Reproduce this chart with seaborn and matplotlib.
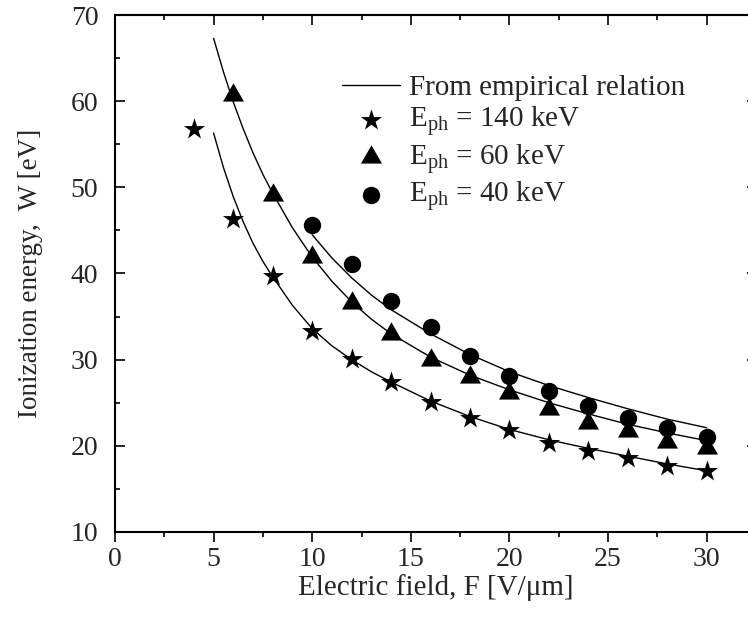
import numpy as np
import pandas as pd
import seaborn as sns
import matplotlib.pyplot as plt
from matplotlib.path import Path
from matplotlib.ticker import MultipleLocator

# Measured points
field_140 = [4, 6, 8, 10, 12, 14, 16, 18, 20, 22, 24, 26, 28, 30]
w_140 = [56.8, 46.3, 39.7, 33.3, 30.1, 27.4, 25.1, 23.2, 21.8, 20.3, 19.4, 18.6, 17.7, 17.1]
field_60 = [6, 8, 10, 12, 14, 16, 18, 20, 22, 24, 26, 28, 30]
w_60 = [60.7, 49.1, 41.9, 36.6, 33.0, 30.0, 28.0, 26.1, 24.3, 22.6, 21.7, 20.5, 19.7]
field_40 = [10, 12, 14, 16, 18, 20, 22, 24, 26, 28, 30]
w_40 = [45.6, 41.1, 36.8, 33.8, 30.4, 28.1, 26.4, 24.6, 23.2, 22.1, 21.0]

# Empirical relation curves
fit_x_140 = [5, 5.5, 6, 6.5, 7, 7.5, 8, 9, 10, 11, 12, 13, 14, 16, 18, 20, 22, 24, 26, 28, 30]
fit_w_140 = [56.3, 52.3, 48.9, 46.0, 43.5, 41.4, 39.6, 36.3, 33.6, 31.6, 30.0, 28.6, 27.4,
             25.2, 23.4, 21.9, 20.7, 19.7, 18.8, 17.9, 17.1]
fit_x_60 = [5, 5.5, 6, 6.5, 7, 7.5, 8, 9, 10, 11, 12, 13, 14, 16, 18, 20, 22, 24, 26, 28, 30]
fit_w_60 = [67.3, 63.4, 59.9, 56.8, 54.0, 51.5, 49.3, 45.3, 41.9, 39.1, 36.7, 34.7, 33.0,
            30.3, 28.2, 26.5, 25.0, 23.7, 22.5, 21.5, 20.6]
fit_x_40 = [10, 11, 12, 13, 14, 16, 18, 20, 22, 24, 26, 28, 30]
fit_w_40 = [44.5, 41.8, 39.5, 37.5, 35.8, 33.0, 30.6, 28.6, 27.0, 25.6, 24.3, 23.1, 22.1]

sns.set_theme(style="ticks")
plt.rcParams["font.family"] = ["Liberation Serif", "DejaVu Serif"]
plt.rcParams["mathtext.fontset"] = "custom"
plt.rcParams["mathtext.rm"] = "Liberation Serif"
plt.rcParams["mathtext.it"] = "Liberation Serif:italic"

fig = plt.figure(figsize=(7.48, 6.23), dpi=100)
# right edge of the frame sits just past the image border
ax = fig.add_axes([0.1537, 0.1461, 0.858, 0.8298])

lw = 1.0
sns.lineplot(x=fit_x_60, y=fit_w_60, ax=ax, color="black", lw=lw, sort=False,
             estimator=None, label="From empirical relation")
sns.lineplot(x=fit_x_140, y=fit_w_140, ax=ax, color="black", lw=lw, sort=False, estimator=None)
sns.lineplot(x=fit_x_40, y=fit_w_40, ax=ax, color="black", lw=lw, sort=False, estimator=None)

tri = Path([(-1, -0.5774), (1, -0.5774), (0, 1.1547), (-1, -0.5774)],
           [Path.MOVETO, Path.LINETO, Path.LINETO, Path.CLOSEPOLY])
sns.scatterplot(x=field_140, y=w_140, ax=ax, marker="*", s=16**2, color="black",
                linewidth=0, label=r"E$_{\rm ph}$ = 140 keV", zorder=3)
sns.scatterplot(x=field_60, y=w_60, ax=ax, marker=tri, s=17.5**2, color="black",
                linewidth=0, label=r"E$_{\rm ph}$ = 60 keV", zorder=3)
sns.scatterplot(x=field_40, y=w_40, ax=ax, marker="o", s=12.5**2, color="black",
                linewidth=0, label=r"E$_{\rm ph}$ = 40 keV", zorder=3)

ax.set_xlim(0, 32.54)
ax.set_ylim(10, 70)
ax.xaxis.set_major_locator(MultipleLocator(5))
ax.xaxis.set_minor_locator(MultipleLocator(2.5))
ax.yaxis.set_major_locator(MultipleLocator(10))
ax.yaxis.set_minor_locator(MultipleLocator(5))

for s in ax.spines.values():
    s.set_linewidth(1.5)
    s.set_color("black")

ax.tick_params(axis="x", which="both", direction="out", bottom=True, top=False,
               labelsize=20, color="black", width=1.2, pad=4)
ax.tick_params(axis="x", which="major", length=7)
ax.tick_params(axis="x", which="minor", length=3.5)
ax.tick_params(axis="y", which="both", direction="in", left=True, right=True,
               labelsize=20, color="black", width=1.2, pad=12)
ax.tick_params(axis="y", which="major", length=7)
ax.tick_params(axis="y", which="minor", length=3.5)

# inward ticks on top edge
sec = ax.secondary_xaxis("top")
sec.xaxis.set_major_locator(MultipleLocator(5))
sec.xaxis.set_minor_locator(MultipleLocator(2.5))
sec.tick_params(which="both", direction="in", labeltop=False, color="black", width=1.2)
sec.tick_params(which="major", length=7)
sec.tick_params(which="minor", length=3.5)
sec.spines["top"].set_linewidth(1.5)

ax.set_xlabel(r"Electric field, F [V/μm]", fontsize=21, labelpad=1)
ax.set_ylabel("Ionization energy,  W [eV]", fontsize=19.5, labelpad=20)

ax.legend(loc="upper left", bbox_to_anchor=(0.3535, 0.885), frameon=False,
          fontsize=21, handlelength=2.0, handletextpad=0.3, labelspacing=0.12,
          borderpad=0, borderaxespad=0)

plt.savefig("out.png", dpi=100)
